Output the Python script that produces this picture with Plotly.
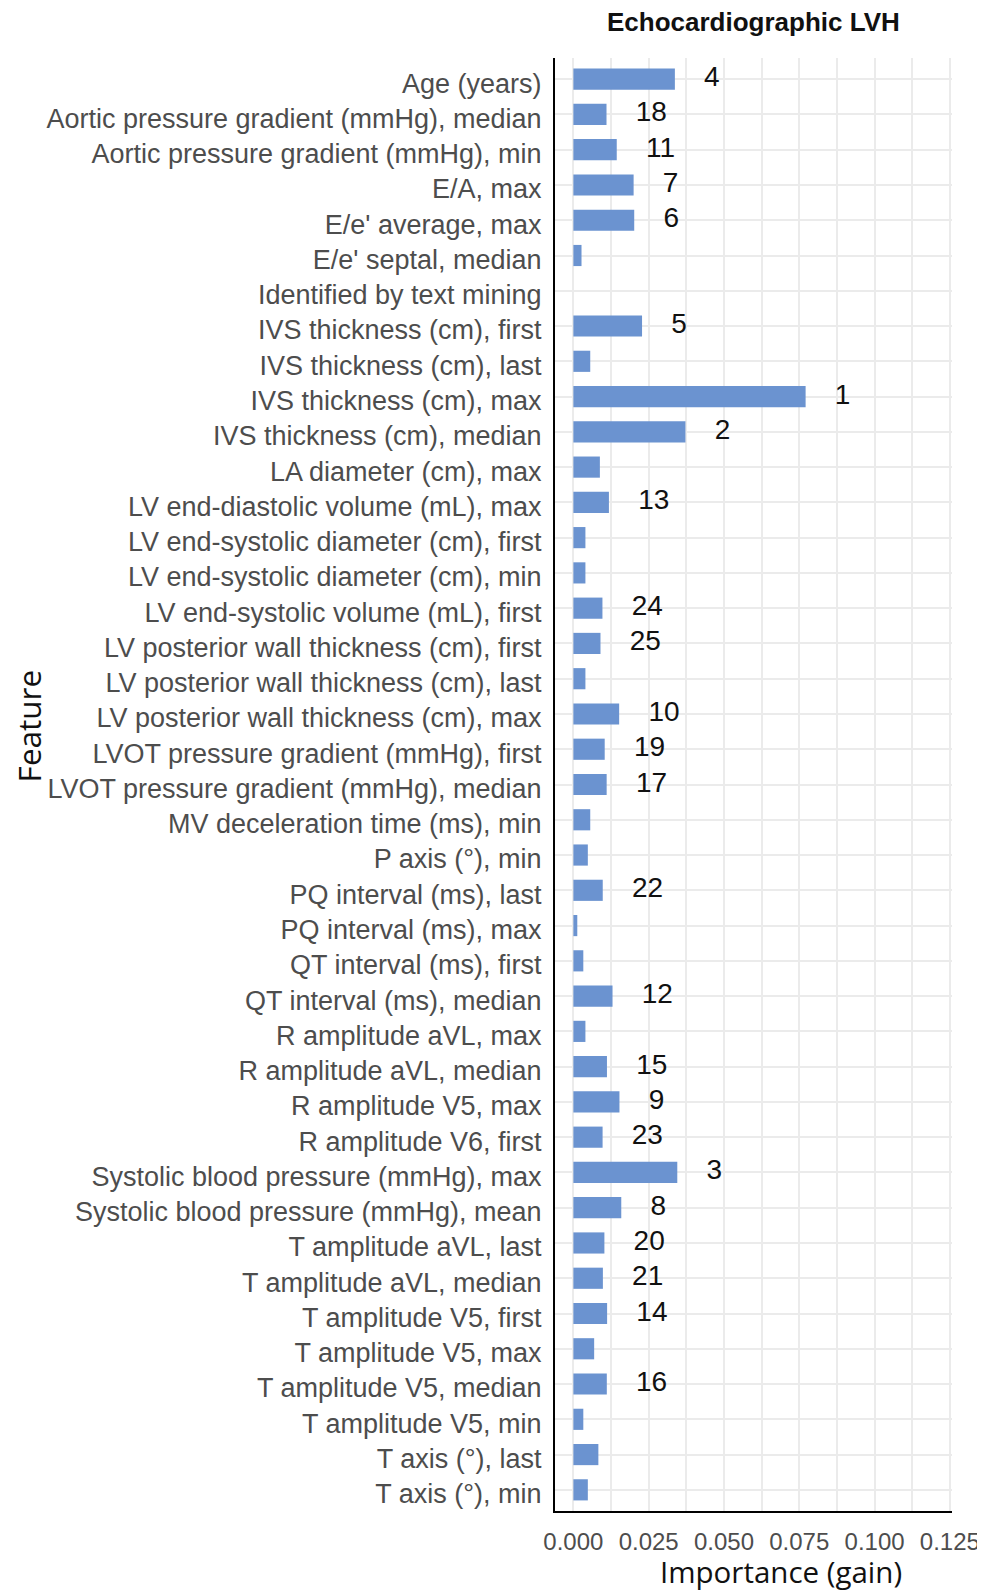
import plotly.graph_objects as go

features = [
    "Age (years)",
    "Aortic pressure gradient (mmHg), median",
    "Aortic pressure gradient (mmHg), min",
    "E/A, max",
    "E/e' average, max",
    "E/e' septal, median",
    "Identified by text mining",
    "IVS thickness (cm), first",
    "IVS thickness (cm), last",
    "IVS thickness (cm), max",
    "IVS thickness (cm), median",
    "LA diameter (cm), max",
    "LV end-diastolic volume (mL), max",
    "LV end-systolic diameter (cm), first",
    "LV end-systolic diameter (cm), min",
    "LV end-systolic volume (mL), first",
    "LV posterior wall thickness (cm), first",
    "LV posterior wall thickness (cm), last",
    "LV posterior wall thickness (cm), max",
    "LVOT pressure gradient (mmHg), first",
    "LVOT pressure gradient (mmHg), median",
    "MV deceleration time (ms), min",
    "P axis (°), min",
    "PQ interval (ms), last",
    "PQ interval (ms), max",
    "QT interval (ms), first",
    "QT interval (ms), median",
    "R amplitude aVL, max",
    "R amplitude aVL, median",
    "R amplitude V5, max",
    "R amplitude V6, first",
    "Systolic blood pressure (mmHg), max",
    "Systolic blood pressure (mmHg), mean",
    "T amplitude aVL, last",
    "T amplitude aVL, median",
    "T amplitude V5, first",
    "T amplitude V5, max",
    "T amplitude V5, median",
    "T amplitude V5, min",
    "T axis (°), last",
    "T axis (°), min",
]

importance = [
    0.0337, 0.0110, 0.0144, 0.0200, 0.0202, 0.0027, 0.0,
    0.0228, 0.0056, 0.0771, 0.0372, 0.0088, 0.0118, 0.0040,
    0.0040, 0.00965, 0.0090, 0.0040, 0.0152, 0.0104, 0.01105,
    0.0056, 0.0048, 0.00975, 0.0013, 0.0033, 0.0130, 0.0040,
    0.01115, 0.0153, 0.0097, 0.0345, 0.0159, 0.0103, 0.0098,
    0.0112, 0.0069, 0.0111, 0.0033, 0.0083, 0.0048,
]

rank_labels = [
    "4", "18", "11", "7", "6", "", "",
    "5", "", "1", "2", "", "13", "",
    "", "24", "25", "", "10", "19", "17",
    "", "", "22", "", "", "12", "",
    "15", "9", "23", "3", "8", "20", "21",
    "14", "", "16", "", "", "",
]

x_ticks = [0.0, 0.025, 0.05, 0.075, 0.1, 0.125]
x_tick_text = ["0.000", "0.025", "0.050", "0.075", "0.100", "0.125"]

BAR_COLOR = "#6B93D0"
GRID = "#EBEBEB"
LABEL_OFFSET = 0.0097

fig = go.Figure()
fig.add_trace(go.Bar(
    x=importance, y=features, orientation="h",
    marker=dict(color=BAR_COLOR, line=dict(width=0)),
    width=0.6, hoverinfo="x+y",
))

lab_x = [v + LABEL_OFFSET for v, r in zip(importance, rank_labels) if r]
lab_y = [f for f, r in zip(features, rank_labels) if r]
lab_t = [r for r in rank_labels if r]
fig.add_trace(go.Scatter(
    x=lab_x, y=lab_y, text=lab_t, mode="text",
    textposition="middle right",
    textfont=dict(family="Liberation Sans, Arial", size=28, color="#111111"),
    hoverinfo="skip", cliponaxis=False,
))

# the page body has an 8px margin, so the figure is sized/shifted to fill the window
fig.update_layout(
    template="none",
    width=977, height=1583,
    margin=dict(l=547, r=33, t=50, b=80, autoexpand=False),
    plot_bgcolor="white", paper_bgcolor="white",
    showlegend=False,
    annotations=[
        dict(text="<b>Echocardiographic LVH</b>", xref="paper", yref="paper",
             x=0.5, y=1, yshift=36, xanchor="center", yanchor="middle",
             showarrow=False,
             font=dict(family="Liberation Sans, Arial", size=26, color="#111111")),
        dict(text="Importance (gain)", xref="paper", yref="paper",
             x=0.569, y=0, yshift=-60, xanchor="center", yanchor="middle",
             showarrow=False,
             font=dict(family="Open Sans", size=29.5, color="#111111")),
        dict(text="Feature", xref="paper", yref="paper",
             x=0, xshift=-527, y=0.540, xanchor="center", yanchor="middle",
             textangle=-90, showarrow=False,
             font=dict(family="Open Sans", size=31.5, color="#111111")),
    ],
)

fig.update_xaxes(
    automargin=False,
    range=[-0.0061, 0.1257],
    tickvals=x_ticks, ticktext=x_tick_text,
    showgrid=True, gridcolor=GRID, gridwidth=1.5,
    minor=dict(dtick=0.0125, tick0=0, showgrid=True, gridcolor=GRID, gridwidth=1.5, ticks=""),
    zeroline=False,
    showline=True, linecolor="black", linewidth=2,
    ticks="", ticklabelstandoff=8,
    tickfont=dict(family="Liberation Sans, Arial", size=24, color="#4D4D4D"),
)
fig.update_yaxes(
    automargin=False,
    categoryorder="array", categoryarray=features,
    range=[len(features) - 0.4, -0.6],
    showgrid=True, gridcolor=GRID, gridwidth=1.5,
    zeroline=False,
    showline=True, linecolor="black", linewidth=2,
    ticks="", ticklabelstandoff=6, ticklabelshift=-4,
    tickfont=dict(family="Liberation Sans, Arial", size=27, color="#4D4D4D"),
)

fig.write_html("out.html")
